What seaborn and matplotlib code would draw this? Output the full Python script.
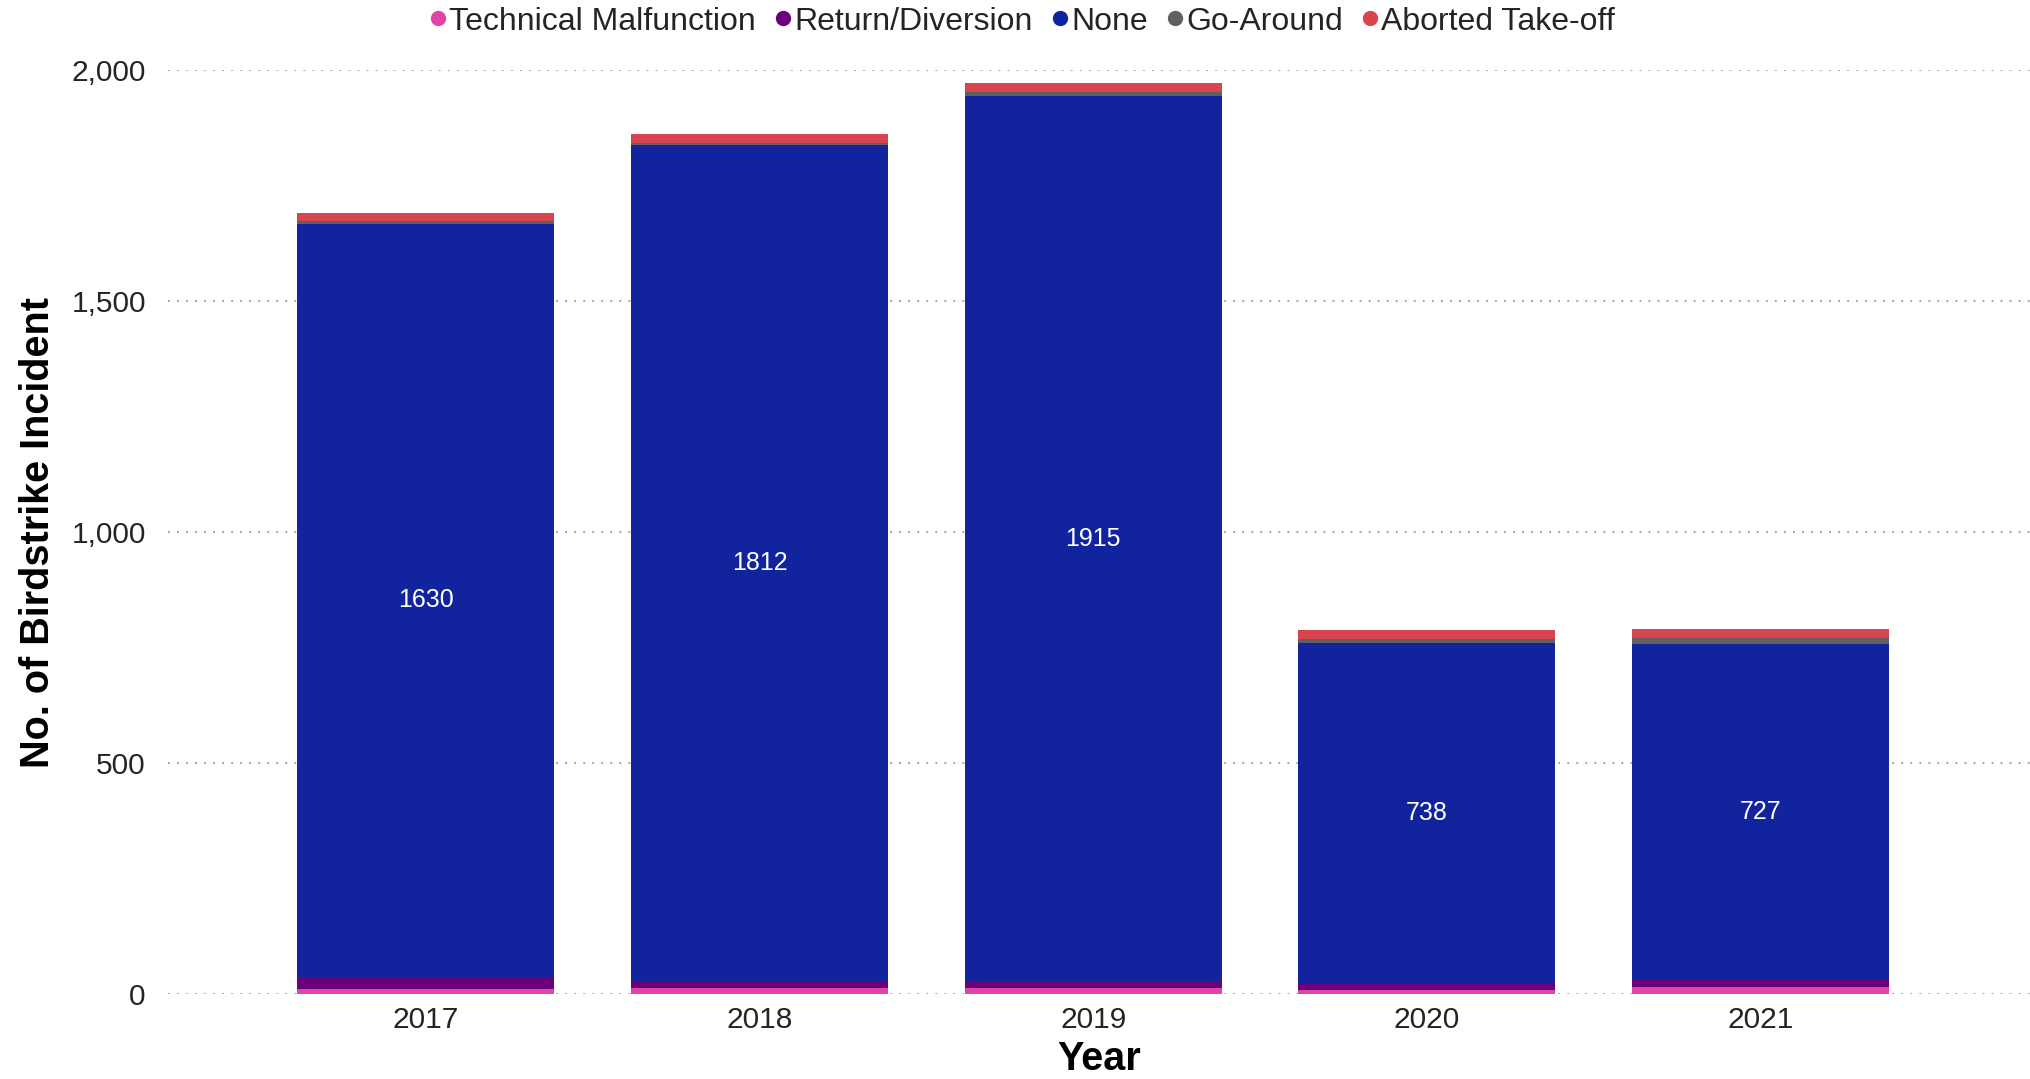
import numpy as np
import pandas as pd
import matplotlib
matplotlib.use("Agg")
import matplotlib.pyplot as plt
from matplotlib.lines import Line2D
import seaborn as sns

years = [2017, 2018, 2019, 2020, 2021]
outcomes = ["Technical Malfunction", "Return/Diversion", "None", "Go-Around", "Aborted Take-off"]
technical_malfunction = [10, 13, 14, 9, 16]
return_diversion = [27, 14, 14, 13, 14]
none_effect = [1630, 1812, 1915, 738, 727]
go_around = [7, 4, 10, 9, 14]
aborted_takeoff = [17, 19, 19, 20, 20]
palette = ["#E044A7", "#6B007B", "#12239E", "#625E62", "#D64550"]

series = [technical_malfunction, return_diversion, none_effect, go_around, aborted_takeoff]
rows = []
for name, vals in zip(outcomes, series):
    for y, v in zip(years, vals):
        rows.append({"Year": y, "Outcome": name, "Count": v})
df = pd.DataFrame(rows)

sns.set_theme(style="white")
plt.rcParams["font.family"] = ["Liberation Sans", "DejaVu Sans"]

fig = plt.figure(figsize=(20.30, 10.79), dpi=100)
ax = fig.add_axes([0.0828, 0.0788, 0.9172, 0.8562])

# seaborn stacks the last hue level at the bottom, so pass the order reversed
sns.histplot(data=df, x="Year", weights="Count", hue="Outcome",
             hue_order=outcomes[::-1], palette=dict(zip(outcomes, palette)),
             multiple="stack", discrete=True, shrink=0.77, alpha=1,
             linewidth=0, legend=False, ax=ax)

# value labels in the middle of the "None" segment
for i, y in enumerate(years):
    base = technical_malfunction[i] + return_diversion[i]
    ax.text(y, base + none_effect[i] / 2, str(none_effect[i]), color="white",
            ha="center", va="center", fontsize=18)

ax.set_xlim(2017 - 0.772, 2017 + 4.807)
ax.set_ylim(0, 2000)
ax.set_xticks(years)
ax.set_xticklabels([str(y) for y in years])
ax.set_yticks([0, 500, 1000, 1500, 2000])
ax.set_yticklabels(["0", "500", "1,000", "1,500", "2,000"])
ax.tick_params(axis="both", length=0, labelsize=21.5, colors="#252423")
ax.tick_params(axis="x", pad=9)
ax.tick_params(axis="y", pad=16)
ax.yaxis.grid(True, linestyle=(0, (1, 4)), color="#9a9a9a", linewidth=1.3)
ax.xaxis.grid(False)
ax.set_axisbelow(True)
for s in ax.spines.values():
    s.set_visible(False)

ax.set_xlabel("Year", fontsize=28.5, fontweight="bold", color="black", labelpad=4)
ax.set_ylabel("No. of Birdstrike Incident", fontsize=28.5, fontweight="bold",
              color="black", labelpad=10)

handles = [Line2D([0], [0], marker="o", linestyle="", markersize=10,
                  markerfacecolor=c, markeredgecolor=c) for c in palette]
fig.legend(handles, outcomes, loc="center", bbox_to_anchor=(0.4995, 0.98),
           ncol=5, frameon=False, fontsize=23, handletextpad=-0.45,
           columnspacing=0.05, handlelength=1.6, labelcolor="#252423")

fig.savefig("out.png", dpi=100)
